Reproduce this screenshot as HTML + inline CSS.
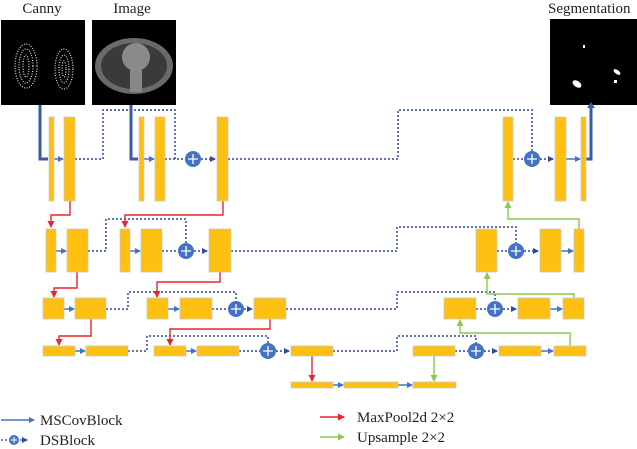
<!DOCTYPE html>
<html><head><meta charset="utf-8"><style>
html,body{margin:0;padding:0;background:#fff;}
svg{display:block;}
text{font-family:"Liberation Serif",serif;fill:#222;}
</style></head><body>
<svg width="637" height="449" viewBox="0 0 637 449" xmlns="http://www.w3.org/2000/svg">
<defs>
<marker id="ab" markerWidth="6" markerHeight="6" refX="5" refY="3" orient="auto" markerUnits="userSpaceOnUse"><path d="M0,0 L6,3 L0,6z" fill="#4472C4"/></marker>
<marker id="ad" markerWidth="6" markerHeight="6" refX="5" refY="3" orient="auto" markerUnits="userSpaceOnUse"><path d="M0,0 L6,3 L0,6z" fill="#2F4A9E"/></marker>
<marker id="ar" markerWidth="7" markerHeight="7" refX="6" refY="3.5" orient="auto" markerUnits="userSpaceOnUse"><path d="M0,0 L7,3.5 L0,7z" fill="#E8262B"/></marker>
<marker id="ag" markerWidth="7" markerHeight="7" refX="6" refY="3.5" orient="auto" markerUnits="userSpaceOnUse"><path d="M0,0 L7,3.5 L0,7z" fill="#8CC94E"/></marker>
</defs>

<text x="42" y="13" font-size="15" text-anchor="middle">Canny</text>
<text x="132" y="13" font-size="15" text-anchor="middle">Image</text>
<text x="548" y="13" font-size="15">Segmentation</text>

<rect x="1" y="20" width="84" height="85" fill="#000"/>
<g fill="none" stroke="#ddd" stroke-width="1.2" stroke-dasharray="1,1.5">
<ellipse cx="26" cy="66" rx="11" ry="22"/><ellipse cx="26" cy="66" rx="7" ry="17"/><ellipse cx="26" cy="66" rx="3" ry="11"/>
<ellipse cx="64" cy="69" rx="9" ry="20"/><ellipse cx="64" cy="69" rx="5" ry="14"/><ellipse cx="64" cy="69" rx="2" ry="8"/>
</g>
<rect x="92" y="20" width="84" height="85" fill="#000"/>
<ellipse cx="134" cy="66" rx="39" ry="28" fill="#6a6a6a"/>
<ellipse cx="134" cy="66" rx="33" ry="23" fill="#3a3a3a"/>
<ellipse cx="136" cy="57" rx="14" ry="14" fill="#8a8a8a"/>
<rect x="130" y="70" width="12" height="22" fill="#888"/>
<rect x="550" y="19" width="87" height="86" fill="#000"/>
<rect x="583" y="45" width="2" height="3" fill="#fff"/>
<ellipse cx="577" cy="84" rx="5" ry="3" fill="#fff" transform="rotate(35 577 84)"/>
<ellipse cx="617" cy="72" rx="4" ry="2" fill="#fff" transform="rotate(35 617 72)"/>
<rect x="614" y="80" width="3" height="3" fill="#fff"/>

<g fill="none" stroke="#4A5FB0" stroke-width="1.7" stroke-dasharray="2,2">
<polyline points="75,159 103,159 103,110 175,110 175,159"/>
<line x1="165" y1="159" x2="185" y2="159"/>
<line x1="201" y1="159" x2="215" y2="159" marker-end="url(#ad)"/>
<polyline points="228,159 398,159 398,110 532,110 532,151"/>
<line x1="513" y1="159" x2="524" y2="159"/>
<line x1="540" y1="159" x2="553" y2="159" marker-end="url(#ad)"/>

<polyline points="88,251 106,251 106,219 186,219 186,243"/>
<line x1="162" y1="251" x2="178" y2="251"/>
<line x1="194" y1="251" x2="207" y2="251" marker-end="url(#ad)"/>
<polyline points="231,251 397,251 397,227 516,227 516,243"/>
<line x1="497" y1="251" x2="508" y2="251"/>
<line x1="524" y1="251" x2="538" y2="251" marker-end="url(#ad)"/>

<polyline points="106,309 128,309 128,292 236,292 236,301"/>
<line x1="212" y1="309" x2="228" y2="309"/>
<line x1="244" y1="309" x2="252" y2="309" marker-end="url(#ad)"/>
<polyline points="286,309 397,309 397,292 495,292 495,301"/>
<line x1="476" y1="309" x2="487" y2="309"/>
<line x1="503" y1="309" x2="516" y2="309" marker-end="url(#ad)"/>

<polyline points="128,351 147,351 147,336 268,336 268,343"/>
<line x1="239" y1="351" x2="260" y2="351"/>
<line x1="276" y1="351" x2="289" y2="351" marker-end="url(#ad)"/>
<polyline points="333,351 397,351 397,336 476,336 476,343"/>
<line x1="455" y1="351" x2="468" y2="351"/>
<line x1="484" y1="351" x2="497" y2="351" marker-end="url(#ad)"/>
</g>

<g fill="none" stroke="#3B5BA5" stroke-width="3">
<polyline points="40,105 40,159 48,159"/>
<polyline points="131,105 131,159 138,159"/>
<polyline points="586,159 591,159 591,108"/>
</g>
<path d="M587,108 L591,102 L595,108z" fill="#3B5BA5"/>

<g stroke="#4472C4" stroke-width="1.5" fill="none">
<line x1="54" y1="159" x2="63" y2="159" marker-end="url(#ab)"/>
<line x1="144" y1="159" x2="154" y2="159" marker-end="url(#ab)"/>
<line x1="566" y1="159" x2="580" y2="159" marker-end="url(#ab)"/>
<line x1="56" y1="251" x2="66" y2="251" marker-end="url(#ab)"/>
<line x1="130" y1="251" x2="140" y2="251" marker-end="url(#ab)"/>
<line x1="561" y1="251" x2="573" y2="251" marker-end="url(#ab)"/>
<line x1="64" y1="309" x2="74" y2="309" marker-end="url(#ab)"/>
<line x1="168" y1="309" x2="179" y2="309" marker-end="url(#ab)"/>
<line x1="550" y1="309" x2="562" y2="309" marker-end="url(#ab)"/>
<line x1="75" y1="351" x2="85" y2="351" marker-end="url(#ab)"/>
<line x1="186" y1="351" x2="196" y2="351" marker-end="url(#ab)"/>
<line x1="541" y1="351" x2="553" y2="351" marker-end="url(#ab)"/>
<line x1="333" y1="385" x2="343" y2="385" marker-end="url(#ab)"/>
<line x1="398" y1="385" x2="412" y2="385" marker-end="url(#ab)"/>
</g>

<g stroke="#E8262B" stroke-width="1.4" fill="none">
<polyline points="70,201 70,215 51,215 51,227" marker-end="url(#ar)"/>
<polyline points="223,201 223,215 125,215 125,227" marker-end="url(#ar)"/>
<polyline points="77,272 77,288 54,288 54,297" marker-end="url(#ar)"/>
<polyline points="220,272 220,282 157,282 157,297" marker-end="url(#ar)"/>
<polyline points="91,319 91,336 59,336 59,345" marker-end="url(#ar)"/>
<polyline points="270,319 270,329 170,329 170,345" marker-end="url(#ar)"/>
<line x1="312" y1="356" x2="312" y2="381" marker-end="url(#ar)"/>
</g>

<g stroke="#8CC94E" stroke-width="1.4" fill="none">
<line x1="434" y1="356" x2="434" y2="381" marker-end="url(#ag)"/>
<polyline points="570,346 570,333 460,333 460,320" marker-end="url(#ag)"/>
<polyline points="574,298 574,294 487,294 487,273" marker-end="url(#ag)"/>
<polyline points="579,229 579,219 508,219 508,202" marker-end="url(#ag)"/>
</g>

<g fill="#FDC010" stroke="#C9C9C9" stroke-width="0.8">
<rect x="49" y="117" width="5" height="84"/><rect x="64" y="117" width="11" height="84"/>
<rect x="139" y="117" width="5" height="84"/><rect x="155" y="117" width="10" height="84"/>
<rect x="217" y="117" width="11" height="84"/>
<rect x="503" y="117" width="10" height="84"/><rect x="555" y="117" width="11" height="84"/>
<rect x="581" y="117" width="5" height="84"/>

<rect x="46" y="229" width="10" height="43"/><rect x="67" y="229" width="21" height="43"/>
<rect x="120" y="229" width="10" height="43"/><rect x="141" y="229" width="21" height="43"/>
<rect x="209" y="229" width="22" height="43"/>
<rect x="476" y="229" width="21" height="43"/><rect x="540" y="229" width="21" height="43"/>
<rect x="574" y="229" width="10" height="43"/>

<rect x="43" y="298" width="21" height="21"/><rect x="75" y="298" width="31" height="21"/>
<rect x="147" y="298" width="21" height="21"/><rect x="180" y="298" width="32" height="21"/>
<rect x="254" y="298" width="32" height="21"/>
<rect x="444" y="298" width="32" height="21"/><rect x="518" y="298" width="32" height="21"/>
<rect x="563" y="298" width="21" height="21"/>

<rect x="43" y="346" width="32" height="10"/><rect x="86" y="346" width="42" height="10"/>
<rect x="154" y="346" width="32" height="10"/><rect x="197" y="346" width="42" height="10"/>
<rect x="291" y="346" width="42" height="10"/>
<rect x="413" y="346" width="42" height="10"/><rect x="499" y="346" width="42" height="10"/>
<rect x="554" y="346" width="32" height="10"/>

<rect x="291" y="382" width="42" height="6"/><rect x="344" y="382" width="54" height="6"/>
<rect x="413" y="382" width="43" height="6"/>
</g>

<g fill="#4472C4">
<circle cx="193" cy="159" r="8"/>
<circle cx="532" cy="159" r="8"/>
<circle cx="186" cy="251" r="8"/>
<circle cx="516" cy="251" r="8"/>
<circle cx="236" cy="309" r="8"/>
<circle cx="495" cy="309" r="8"/>
<circle cx="268" cy="351" r="8"/>
<circle cx="476" cy="351" r="8"/>
</g>
<g stroke="#fff" stroke-width="1.3">
<path d="M188,159h10M193,154v10"/><path d="M527,159h10M532,154v10"/>
<path d="M181,251h10M186,246v10"/><path d="M511,251h10M516,246v10"/>
<path d="M231,309h10M236,304v10"/><path d="M490,309h10M495,304v10"/>
<path d="M263,351h10M268,346v10"/><path d="M471,351h10M476,346v10"/>
</g>

<line x1="1" y1="420" x2="34" y2="420" stroke="#4472C4" stroke-width="1.4" marker-end="url(#ab)"/>
<text x="40" y="425" font-size="15">MSCovBlock</text>
<line x1="1" y1="440" x2="8" y2="440" stroke="#4A5FB0" stroke-width="1.6" stroke-dasharray="2,2"/>
<circle cx="14" cy="440" r="5" fill="#4472C4"/>
<path d="M11,440h6M14,437v6" stroke="#fff" stroke-width="1"/>
<line x1="20" y1="440" x2="27" y2="440" stroke="#4A5FB0" stroke-width="1.4" marker-end="url(#ad)"/>
<text x="40" y="445" font-size="15">DSBlock</text>
<line x1="320" y1="417" x2="344" y2="417" stroke="#E8262B" stroke-width="1.4" marker-end="url(#ar)"/>
<text x="357" y="422" font-size="15">MaxPool2d 2×2</text>
<line x1="320" y1="437" x2="344" y2="437" stroke="#8CC94E" stroke-width="1.4" marker-end="url(#ag)"/>
<text x="357" y="442" font-size="15">Upsample 2×2</text>
</svg>
</body></html>
